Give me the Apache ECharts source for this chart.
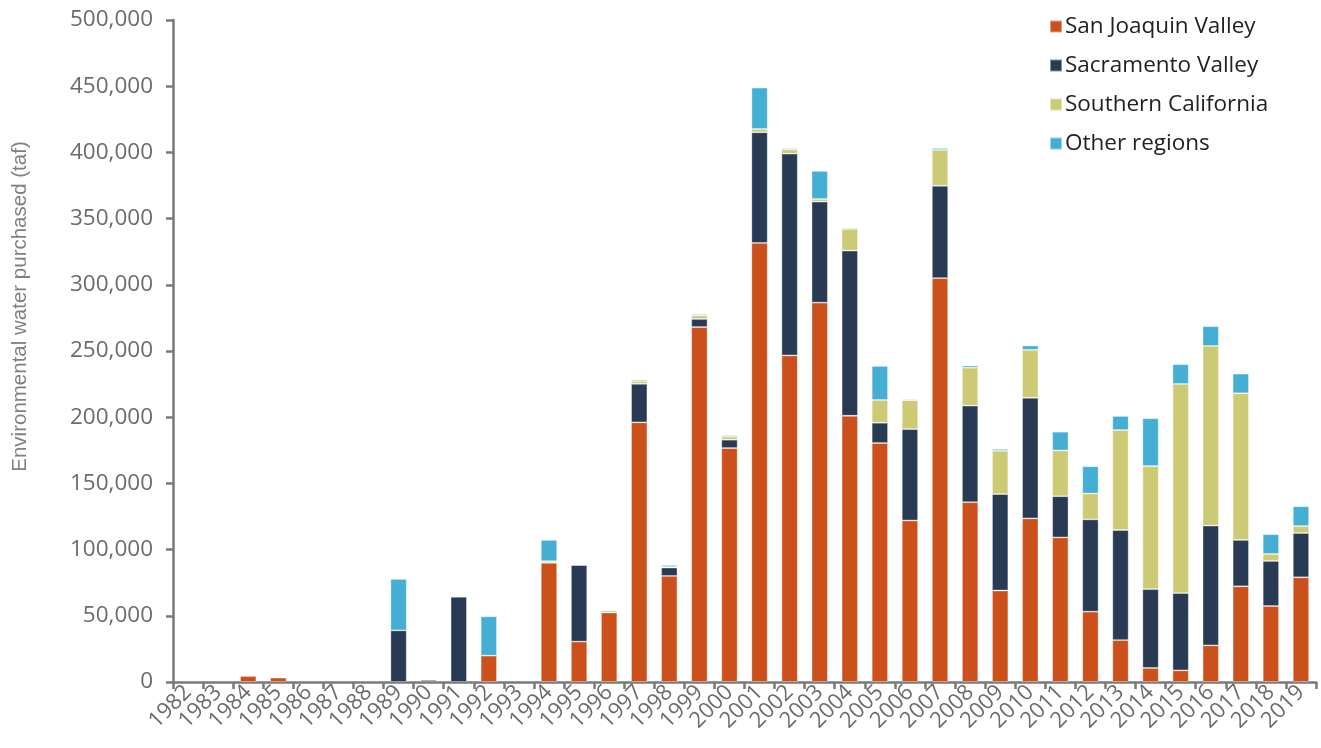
<!DOCTYPE html>
<html>
<head>
<meta charset="utf-8">
<script src="https://cdn.jsdelivr.net/npm/echarts@6/dist/echarts.min.js"></script>
<style>
  html, body { margin: 0; padding: 0; background: #ffffff; }
  #chart { width: 1321px; height: 748px; }
</style>
</head>
<body>
<div id="chart"></div>
<script>
// Environmental water purchases by region, 1982-2019 (taf)
const years = ['1982','1983','1984','1985','1986','1987','1988','1989','1990','1991',
  '1992','1993','1994','1995','1996','1997','1998','1999','2000','2001',
  '2002','2003','2004','2005','2006','2007','2008','2009','2010','2011',
  '2012','2013','2014','2015','2016','2017','2018','2019'];

const sanJoaquinValley = [0, 0, 4500, 3300, 0, 0, 0, 0, 0, 0,
  19900, 0, 90000, 30500, 52500, 196100, 80100, 268100, 176700, 331600,
  246700, 286500, 201100, 180500, 122000, 305100, 135800, 69100, 123600, 109200,
  53100, 31700, 10600, 8800, 27700, 72300, 57400, 79100];

const sacramentoValley = [0, 0, 0, 0, 0, 0, 0, 39000, 1500, 64400,
  0, 0, 0, 57800, 0, 29100, 6300, 6100, 6300, 83600,
  152300, 76300, 124700, 15300, 69000, 69700, 72900, 72800, 91100, 31100,
  69700, 83100, 59600, 58400, 90400, 35000, 34000, 33400];

const southernCalifornia = [0, 0, 0, 0, 0, 0, 0, 0, 0, 0,
  0, 0, 1300, 600, 1500, 2100, 500, 2700, 2300, 2500,
  3100, 2000, 16400, 17200, 21800, 27100, 28700, 32700, 36200, 34600,
  19600, 75500, 92900, 157900, 135700, 110800, 5300, 5300];

const otherRegions = [0, 0, 0, 0, 0, 0, 0, 38800, 0, 0,
  29700, 0, 16000, 0, 0, 1100, 1400, 1000, 1000, 31200,
  1000, 21200, 900, 25700, 800, 1400, 1600, 1400, 3200, 14100,
  20500, 10600, 36100, 14900, 14900, 14800, 14900, 14900];

const seriesNames = ['San Joaquin Valley', 'Sacramento Valley', 'Southern California', 'Other regions'];
const seriesColors = ['#CB501C', '#283A54', '#CDCA76', '#45AFD3'];
const seriesData = [sanJoaquinValley, sacramentoValley, southernCalifornia, otherRegions];

const yTicks = { min: 0, max: 500000, interval: 50000 };

const axisGray = '#7a7a7a';
const labelGray = '#6b6b6b';
const fontFamily = '"Open Sans", Lato, sans-serif';

const chart = echarts.init(document.getElementById('chart'), null, { renderer: 'canvas' });

chart.setOption({
  animation: false,
  backgroundColor: '#ffffff',
  grid: { left: 173, right: 5, top: 20, bottom: 66, containLabel: false },
  legend: {
    orient: 'vertical',
    left: 1044,
    top: 10,
    itemWidth: 12,
    itemHeight: 12,
    itemGap: 16,
    icon: 'rect',
    textStyle: { fontFamily: fontFamily, fontSize: 22.5, color: '#222222', padding: [0, 0, 0, -2] },
    data: seriesNames
  },
  xAxis: {
    type: 'category',
    data: years,
    boundaryGap: true,
    axisLine: { show: true, lineStyle: { color: axisGray, width: 2.5 } },
    axisTick: { show: true, alignWithLabel: false, length: 7, lineStyle: { color: axisGray, width: 2.5 } },
    axisLabel: {
      rotate: 45,
      interval: 0,
      margin: 7,
      fontFamily: fontFamily,
      fontSize: 22,
      color: labelGray
    }
  },
  yAxis: {
    type: 'value',
    min: yTicks.min,
    max: yTicks.max,
    interval: yTicks.interval,
    name: 'Environmental water purchased (taf)',
    nameLocation: 'middle',
    nameGap: 142,
    nameTextStyle: {
      fontFamily: '"Liberation Sans Narrow", "Liberation Sans", sans-serif',
      fontSize: 20.5,
      color: '#808080',
      padding: [0, 0, 0, 89]
    },
    axisLine: { show: true, lineStyle: { color: axisGray, width: 2.5 } },
    axisTick: { show: true, length: 7, lineStyle: { color: axisGray, width: 2.5 } },
    splitLine: { show: false },
    axisLabel: {
      margin: 20,
      fontFamily: fontFamily,
      fontSize: 22.5,
      color: labelGray,
      formatter: function (v) { return v.toLocaleString('en-US'); }
    }
  },
  series: seriesNames.map(function (name, i) {
    return {
      name: name,
      type: 'bar',
      stack: 'total',
      barWidth: '54%',
      // empty years draw no segment
      data: seriesData[i].map(function (v) { return v === 0 ? '-' : v; }),
      itemStyle: {
        color: seriesColors[i],
        borderColor: 'rgba(255,255,255,0.45)',
        borderWidth: 0.8
      }
    };
  })
});
</script>
</body>
</html>
